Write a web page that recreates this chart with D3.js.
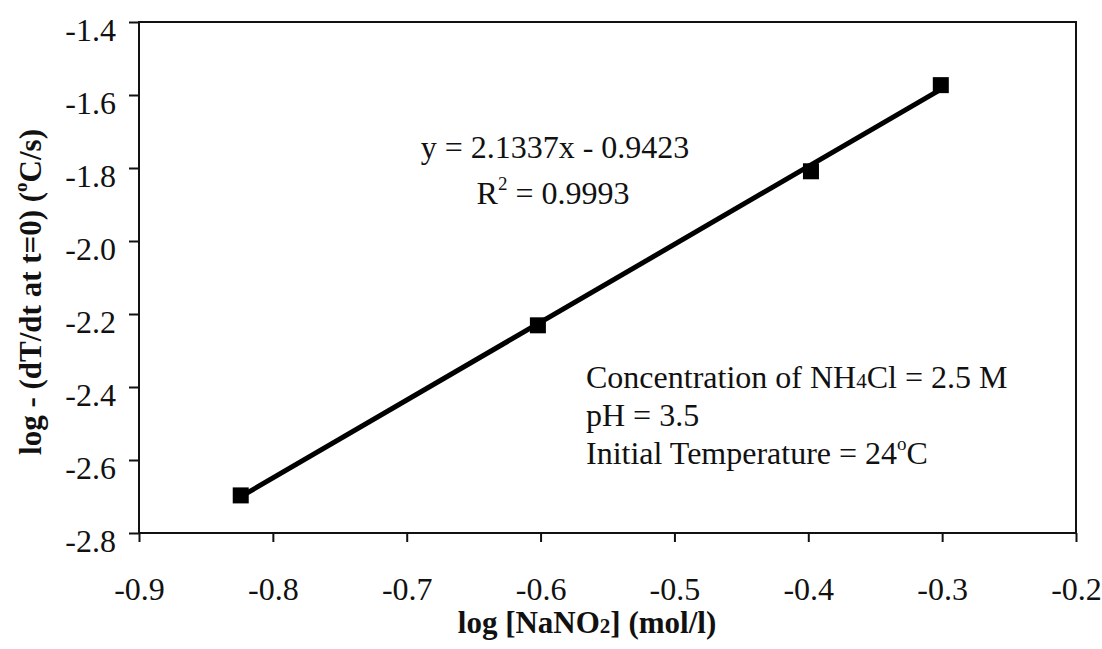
<!DOCTYPE html>
<html>
<head>
<meta charset="utf-8">
<script src="https://cdn.jsdelivr.net/npm/d3@7"></script>
<style>
  body { margin: 0; background: #fff; }
  text { font-family: "Liberation Serif", "Times New Roman", serif; fill: #111; }
  .axis-title { font-weight: bold; }
</style>
</head>
<body>
<div id="chart"></div>
<script>
// measured points, log[NaNO2] vs log -(dT/dt at t=0)
const xValues = [-0.824, -0.602, -0.398, -0.301];
const yValues = [-2.697, -2.231, -1.809, -1.573];
const xTicks = [-0.9, -0.8, -0.7, -0.6, -0.5, -0.4, -0.3, -0.2];
const yTicks = [-1.4, -1.6, -1.8, -2.0, -2.2, -2.4, -2.6, -2.8];
// trendline as printed on the chart
const slope = 2.1337;
const intercept = -0.9423;
const rSquared = 0.9993;
const notes = ["Concentration of NH|4|Cl = 2.5 M", "pH = 3.5", "Initial Temperature = 24^o^C"];

function initChart(selector) {
    const W = 1102, H = 649;
    const margin = {top: 22, right: 26, bottom: 116, left: 139};
    const width = W - margin.left - margin.right;
    const height = H - margin.top - margin.bottom;
    const serif = '"Liberation Serif", "Times New Roman", serif';

    const xScale = d3.scaleLinear().domain([-0.9, -0.2]).range([0, width]);
    const yScale = d3.scaleLinear().domain([-2.8, -1.4]).range([height, 0]);

    const svg = d3.select(selector).append("svg")
        .attr("width", W)
        .attr("height", H);
    const g = svg.append("g")
        .attr("transform", `translate(${margin.left}, ${margin.top})`);

    // plot frame
    g.append("rect")
        .attr("width", width).attr("height", height)
        .attr("fill", "none").attr("stroke", "#111").attr("stroke-width", 2);

    const fmt = d => d3.format(".1f")(d).replace("−", "-");
    const xAxis = g.append("g")
        .attr("transform", `translate(0, ${height})`)
        .call(d3.axisBottom(xScale).tickValues(xTicks).tickSize(9).tickPadding(35)
            .tickFormat(fmt));
    const yAxis = g.append("g")
        .call(d3.axisLeft(yScale).tickValues(yTicks).tickSize(10).tickPadding(13)
            .tickFormat(fmt));

    [xAxis, yAxis].forEach(ax => {
        ax.attr("font-family", serif).attr("font-size", 32);
        ax.select(".domain").remove();
        ax.selectAll(".tick line").attr("stroke", "#111").attr("stroke-width", 2);
        ax.selectAll(".tick text").attr("fill", "#111");
    });
    yAxis.selectAll(".tick text").attr("dy", "0.58em");

    // trendline across the measured range
    const x0 = d3.min(xValues), x1 = d3.max(xValues);
    const line = d3.line()
        .x(d => xScale(d))
        .y(d => yScale(slope * d + intercept));
    g.append("path")
        .datum([x0, x1])
        .attr("d", line)
        .attr("fill", "none")
        .attr("stroke", "#000")
        .attr("stroke-width", 5);

    const points = xValues.map((x, i) => ({x: x, y: yValues[i]}));
    const size = 16;
    g.selectAll("rect.pt")
        .data(points)
        .join("rect")
        .attr("class", "pt")
        .attr("x", d => xScale(d.x) - size / 2)
        .attr("y", d => yScale(d.y) - size / 2)
        .attr("width", size).attr("height", size)
        .attr("fill", "#000");

    // equation
    svg.append("text")
        .attr("x", 555).attr("y", 158)
        .attr("text-anchor", "middle")
        .style("font-size", "32px")
        .text(`y = ${slope}x - ${Math.abs(intercept)}`);
    const r2 = svg.append("text")
        .attr("x", 553).attr("y", 204)
        .attr("text-anchor", "middle")
        .style("font-size", "32px");
    r2.append("tspan").text("R");
    r2.append("tspan").attr("dy", -14).style("font-size", "19px").text("2");
    r2.append("tspan").attr("dy", 14).text(` = ${rSquared}`);

    // conditions note; |x| = subscript, ^x^ = superscript
    notes.forEach((s, i) => {
        const t = svg.append("text")
            .attr("x", 586).attr("y", 388 + i * 38)
            .style("font-size", "32px");
        let shift = 0;
        s.split(/(\|[^|]+\||\^[^^]+\^)/).filter(p => p).forEach(p => {
            if (p[0] === "|") {
                t.append("tspan").style("font-size", "21px").text(p.slice(1, -1));
            } else if (p[0] === "^") {
                t.append("tspan").attr("dy", -14).style("font-size", "19px").text(p.slice(1, -1));
                shift = 14;
            } else {
                t.append("tspan").attr("dy", shift || null).text(p);
                shift = 0;
            }
        });
    });

    // axis titles
    const xt = svg.append("text")
        .attr("class", "axis-title")
        .attr("x", 587).attr("y", 633)
        .attr("text-anchor", "middle")
        .style("font-size", "31px");
    xt.append("tspan").text("log [NaNO");
    xt.append("tspan").style("font-size", "21px").text("2");
    xt.append("tspan").text("] (mol/l)");

    const yt = svg.append("text")
        .attr("class", "axis-title")
        .attr("transform", "translate(41, 292) rotate(-90)")
        .attr("text-anchor", "middle")
        .style("font-size", "31px");
    yt.append("tspan").text("log - (dT/dt at t=0) (");
    yt.append("tspan").attr("dy", -14).style("font-size", "19px").text("o");
    yt.append("tspan").attr("dy", 14).text("C/s)");
}

document.addEventListener('DOMContentLoaded', function () {
    initChart("#chart");
});
</script>
</body>
</html>
